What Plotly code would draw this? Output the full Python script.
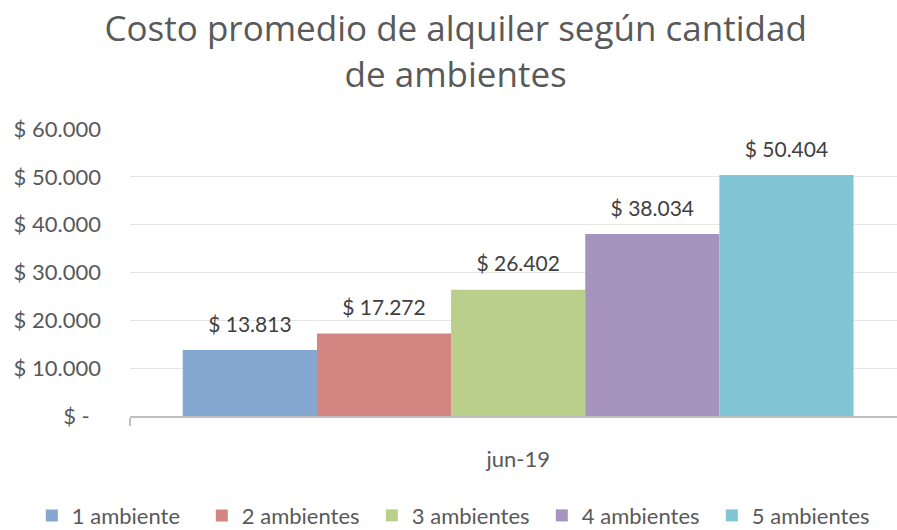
import plotly.graph_objects as go

categories = ["jun-19"]
series_names = ["1 ambiente", "2 ambientes", "3 ambientes", "4 ambientes", "5 ambientes"]
series_values = [13813, 17272, 26402, 38034, 50404]
value_labels = ["$ 13.813", "$ 17.272", "$ 26.402", "$ 38.034", "$ 50.404"]
colors = ["#84A7D1", "#D38582", "#B9CF8B", "#A693BE", "#81C5D7"]
tick_vals = [0, 10000, 20000, 30000, 40000, 50000, 60000]
tick_text = ["$ -\u00a0\u00a0", "$ 10.000", "$ 20.000", "$ 30.000", "$ 40.000", "$ 50.000", "$ 60.000"]

fig = go.Figure()
for name, val, lab, col in zip(series_names, series_values, value_labels, colors):
    fig.add_trace(go.Bar(
        x=categories, y=[val], name=name, marker=dict(color=col, line=dict(width=0)),
        text=["<span style='font-size:21px'>" + lab + "</span><br><span style='font-size:4px'> </span>"],
        textposition="outside", cliponaxis=False, constraintext="none",
        textfont=dict(family="Lato", size=11, color="#404040"),
    ))

fig.update_layout(
    width=897, height=530,
    paper_bgcolor="white", plot_bgcolor="white",
    margin=dict(l=130, r=0, t=129, b=114, autoexpand=False),
    title=dict(text="Costo promedio de alquiler según cantidad<br>de ambientes",
               x=0.508, xanchor="center", yref="container", y=0.922, yanchor="top",
               font=dict(family="Open Sans", size=35, color="#595959")),
    barmode="group", bargap=0.136, bargroupgap=0,
    showlegend=True,
    legend=dict(orientation="h", xref="paper", x=-0.128, xanchor="left",
                yref="paper", y=-0.347, yanchor="middle",
                font=dict(family="Lato", size=22, color="#595959"),
                itemwidth=30, entrywidth=125, traceorder="normal"),
)
fig.update_xaxes(
    type="category", range=[-0.5, 0.488],
    showline=True, linecolor="#BFBFBF", linewidth=2,
    ticks="outside", tickson="boundaries", ticklen=8, tickcolor="#BFBFBF", tickwidth=2,
    tickfont=dict(family="Lato", size=22, color="#595959"),
    showgrid=False, ticklabelstandoff=23,
)
fig.update_yaxes(
    range=[0, 60000], tickvals=tick_vals, ticktext=tick_text,
    showgrid=True, gridcolor="#E6E6E6", gridwidth=1,
    showline=False, zeroline=False, ticks="",
    tickfont=dict(family="Lato", size=22, color="#595959"),
    ticklabelstandoff=28,
)
fig.write_html("out.html", config={"displayModeBar": False},
               post_script="document.body.style.margin='0';")
